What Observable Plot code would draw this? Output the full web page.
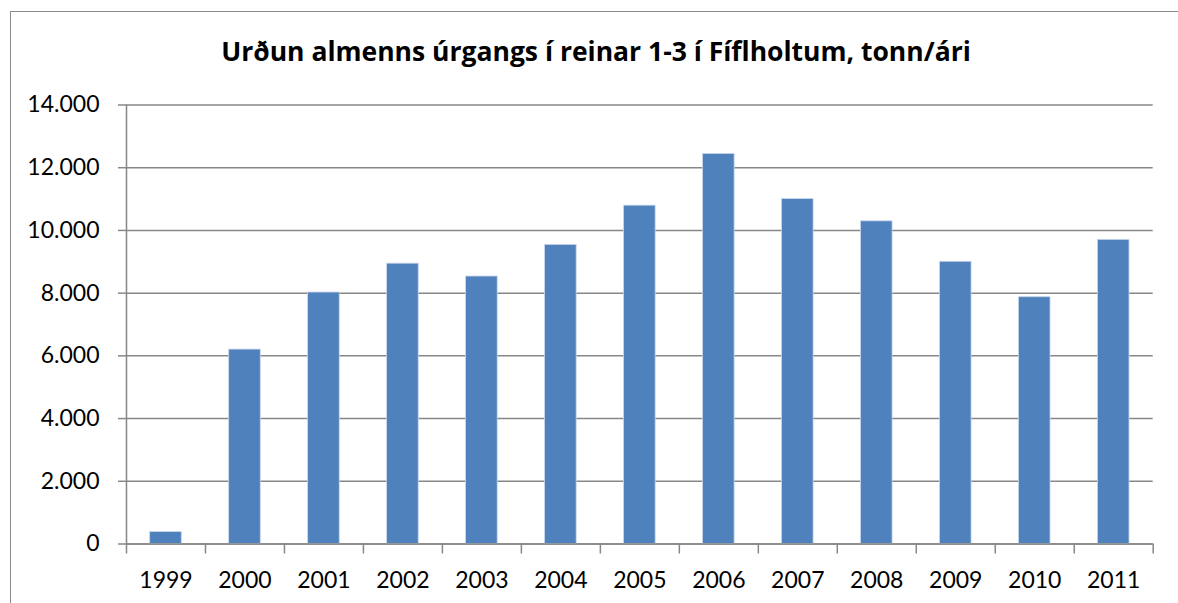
<!DOCTYPE html>
<html>
<head>
<meta charset="utf-8">
<script src="https://cdn.jsdelivr.net/npm/d3@7"></script>
<script src="https://cdn.jsdelivr.net/npm/@observablehq/plot@0.6"></script>
<style>
  html, body { margin: 0; padding: 0; background: #fff; }
  #wrap { position: relative; width: 1178px; height: 603px; overflow: hidden; background: #fff; }
  #border { position: absolute; left: 10px; top: 11px; width: 1300px; height: 700px; z-index: 2;
            border-left: 1.5px solid #8a8a8a; border-top: 1.5px solid #8a8a8a; pointer-events: none; }
  #title { position: absolute; left: 0; top: 38px; width: 1178px; height: 27px; padding-left: 14px; box-sizing: border-box;
           font-family: "Open Sans", Lato, sans-serif; font-weight: bold; font-size: 26.5px;
           color: #000; text-align: center; line-height: 26.5px; white-space: nowrap; }
  #chart { position: absolute; left: 0; top: 80px; }
</style>
</head>
<body>
<div id="wrap">
  <div id="border"></div>
  <div id="title">Urðun almenns úrgangs í reinar 1-3 í Fíflholtum, tonn/ári</div>
  <div id="chart"></div>
</div>
<script>
const years = ["1999","2000","2001","2002","2003","2004","2005","2006","2007","2008","2009","2010","2011"];
const tonnes = [380, 6200, 8020, 8940, 8530, 9540, 10790, 12440, 11000, 10290, 9000, 7870, 9700];
const yTicks = [0, 2000, 4000, 6000, 8000, 10000, 12000, 14000];

const data = years.map((y, i) => ({year: y, value: tonnes[i]}));

const W = 1178, H = 523, ML = 126, MR = 25.3, MT = 24.5, MB = 59.5;
const step = (W - ML - MR) / years.length;
const isFmt = d3.formatLocale({decimal: ",", thousands: ".", grouping: [3], currency: ["", ""]}).format(",");
const gridColor = "#878787";

const chart = Plot.plot({
  width: W,
  height: H,
  marginLeft: ML,
  marginRight: MR,
  marginTop: MT,
  marginBottom: MB,
  style: {fontFamily: "Lato, 'Open Sans', sans-serif", fontSize: "23px", color: "#000", background: "transparent"},
  x: {type: "band", domain: years, paddingInner: 0.6, paddingOuter: 0.3, round: false, label: null},
  y: {domain: [0, 14000], label: null},
  marks: [
    Plot.gridY(yTicks, {stroke: gridColor, strokeOpacity: 1, strokeWidth: 1.5}),
    Plot.axisY(yTicks, {tickSize: 8, tickPadding: 19, stroke: gridColor, strokeWidth: 1.5, tickFormat: isFmt, fill: "#000", label: null}),
    Plot.barY(data, {x: "year", y: "value", fill: "#4f81bd", stroke: "#c9d7ea", strokeWidth: 0.8}),
    Plot.ruleY([0], {stroke: gridColor, strokeWidth: 1.5}),
    Plot.ruleX([years[0]], {dx: -step / 2, stroke: gridColor, strokeWidth: 1.5}),
    Plot.axisX(years, {tickSize: 10, dx: -step / 2, tickFormat: () => "", stroke: gridColor, strokeWidth: 1.5, label: null}),
    Plot.axisX([years[years.length - 1]], {tickSize: 10, dx: step / 2, tickFormat: () => "", stroke: gridColor, strokeWidth: 1.5, label: null}),
    Plot.axisX(years, {tickSize: 0, tickPadding: 28, fill: "#000", label: null})
  ]
});
document.getElementById("chart").appendChild(chart);
</script>
</body>
</html>
